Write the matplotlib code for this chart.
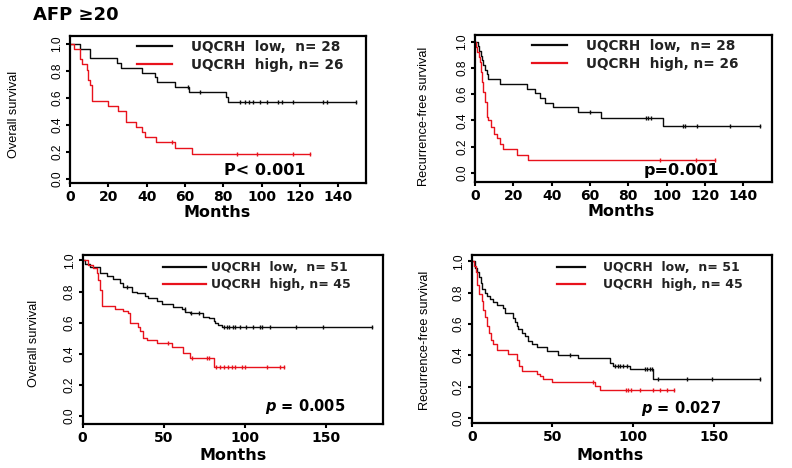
import numpy as np
import matplotlib
matplotlib.use('Agg')
import matplotlib.pyplot as plt

# ---- data ----
# top-left: overall survival, AFP >= 20
os1_low_t = [0, 5.2, 10.4, 24.3, 26.4, 37.4, 44.3, 45.6, 54.8, 62.1, 81.2, 82.3]
os1_low_s = [1.0, 0.964, 0.893, 0.857, 0.821, 0.786, 0.75, 0.714, 0.679, 0.643, 0.607, 0.57]
os1_low_c = [61.4, 67.8, 88.7, 91.3, 93.6, 95.7, 99.1, 102.6, 108.7, 110.4, 116.5, 132.2, 133.9, 149.2]
os1_high_t = [0, 2, 5.2, 6.4, 8.7, 9.6, 10.4, 11.3, 20, 25, 29.3, 34.3, 37.8, 39, 44.8, 55, 63.7]
os1_high_s = [1.0, 0.962, 0.885, 0.846, 0.808, 0.731, 0.692, 0.577, 0.538, 0.5, 0.423, 0.385, 0.346,
              0.308, 0.269, 0.227, 0.185]
os1_high_c = [53, 87, 97.4, 116.2, 125.2]

# top-right: recurrence-free survival, AFP >= 20
rfs1_low_t = [0, 1.5, 2.2, 3, 3.5, 4.4, 5.2, 6.1, 6.9, 13, 27, 31.3, 33.9, 36.5, 40.7, 54, 66, 98.2]
rfs1_low_s = [1.0, 0.964, 0.929, 0.893, 0.857, 0.821, 0.786, 0.75, 0.714, 0.679, 0.643, 0.607, 0.571,
              0.536, 0.5, 0.464, 0.42, 0.36]
rfs1_low_c = [60, 89, 90.4, 91.8, 108.3, 109.5, 115.6, 133, 148.7]
rfs1_high_t = [0, 0.8, 1.3, 2, 2.5, 3.1, 3.6, 4.2, 5.2, 6.1, 6.9, 8.2, 9.9, 11.3, 13, 14.8, 21.7, 27.8]
rfs1_high_s = [1.0, 0.962, 0.923, 0.885, 0.846, 0.769, 0.692, 0.615, 0.538, 0.43, 0.40, 0.35, 0.30,
               0.27, 0.22, 0.18, 0.14, 0.10]
rfs1_high_c = [96.5, 115.3, 125.2]

# bottom-left: overall survival
os2_low_t = [0, 1.5, 4.5, 10.7, 14.8, 18.9, 23, 25.1, 30.2, 33.3, 38.5, 40.5, 45.7, 48.8, 56, 61.1,
             63.2, 66.3, 74.5, 77.6, 80.7, 81.7, 83.7, 85.8]
os2_low_s = [1.0, 0.98, 0.956, 0.92, 0.90, 0.88, 0.853, 0.83, 0.80, 0.79, 0.77, 0.757, 0.74, 0.72,
             0.70, 0.686, 0.67, 0.66, 0.64, 0.628, 0.613, 0.596, 0.585, 0.57]
os2_low_c = [27.2, 62.8, 66.9, 72, 87.2, 88.9, 90.5, 92.4, 94, 97.1, 100.8, 105.3, 109.1, 110.5,
             115.6, 131.7, 148.1, 178.4]
os2_high_t = [0, 3.5, 6.6, 8.6, 9.7, 10.7, 11.7, 20, 25.1, 28.2, 29.2, 34.4, 35.4, 37.4, 39.5, 45.7,
              54.9, 62.1, 66.3, 80.7]
os2_high_s = [1.0, 0.97, 0.95, 0.917, 0.875, 0.81, 0.707, 0.686, 0.675, 0.665, 0.596, 0.57, 0.547,
              0.50, 0.489, 0.467, 0.446, 0.407, 0.371, 0.313]
os2_high_c = [52.9, 67.3, 76.5, 78.2, 82.3, 84.8, 87.2, 89.9, 92, 94, 98.1, 100.2, 113.6, 121.8, 123.9]

# bottom-right: recurrence-free survival
rfs2_low_t = [0, 2.1, 3.1, 4.7, 5.6, 6.2, 8.3, 9.7, 11.4, 13.4, 15.5, 19.6, 20.6, 25.8, 26.8, 27.9,
              28.9, 31, 33, 35.1, 37.2, 40.2, 46.4, 53.7, 66, 85.7, 87.7, 98, 112.5]
rfs2_low_s = [1.0, 0.96, 0.93, 0.90, 0.86, 0.82, 0.80, 0.78, 0.76, 0.74, 0.72, 0.70, 0.67, 0.64, 0.61,
              0.585, 0.565, 0.54, 0.52, 0.49, 0.47, 0.45, 0.43, 0.40, 0.38, 0.35, 0.33, 0.31, 0.25]
rfs2_low_c = [60.9, 88.8, 90.8, 91.8, 93.9, 96, 107.3, 108.4, 110.4, 111.5, 115.6, 133.1, 148.6, 178.5]
rfs2_high_t = [0, 1.4, 2.7, 3.5, 4.3, 6.2, 7.2, 8.3, 9.7, 10.9, 11.8, 13.4, 15.5, 22.7, 27.9, 29.5, 31,
               40.2, 42.3, 44.4, 49.5, 76.4, 79.5]
rfs2_high_s = [1.0, 0.97, 0.93, 0.85, 0.79, 0.745, 0.69, 0.645, 0.585, 0.54, 0.50, 0.47, 0.435, 0.41,
               0.37, 0.33, 0.30, 0.277, 0.266, 0.25, 0.228, 0.206, 0.177]
rfs2_high_c = [74.9, 95.6, 97, 98.5, 104.2, 112.5, 116.6, 120.7, 125.3]

labels_top = ['UQCRH  low,  n= 28', 'UQCRH  high, n= 26']
labels_bot = ['UQCRH  low,  n= 51', 'UQCRH  high, n= 45']
xticks_top = [0, 20, 40, 60, 80, 100, 120, 140]
xticks_bot = [0, 50, 100, 150]
yticks = [0.0, 0.2, 0.4, 0.6, 0.8, 1.0]

BLACK = '#0a0a0a'
RED = '#e8121c'
ARIAL = 'Liberation Sans'


def km(ax, t, s, c, color, label):
    t = list(t)
    s = list(s)
    if max(c) > t[-1]:
        t.append(max(c))
        s.append(s[-1])
    line, = ax.step(t, s, where='post', color=color, lw=1.0, label=label)
    idx = np.searchsorted(t, c, side='right') - 1
    ax.plot(c, np.array(s)[idx], '|', color=color, ms=3.5, mew=1.0)
    return line


def panel(rect, low, high, labels, xticks, xlim, ylim, ylabel, ylab_xy, xlab_xy,
          leg_xy, leg_fs, hlen, hpad, ptext, pxy, pfs):
    ax = fig.add_axes(rect)
    h1 = km(ax, *low, BLACK, labels[0])
    h2 = km(ax, *high, RED, labels[1])
    ax.set_xlim(*xlim)
    ax.set_ylim(*ylim)
    ax.set_xticks(xticks)
    ax.set_yticks(yticks)
    ax.set_yticklabels(['%.1f' % v for v in yticks], rotation=90, va='center',
                       family=ARIAL, fontsize=8.6)
    for lab in ax.get_xticklabels():
        lab.set_fontweight('bold')
        lab.set_fontsize(10)
    ax.tick_params(direction='out', length=3, width=1.5, pad=2)
    for sp in ax.spines.values():
        sp.set_linewidth(1.6)
    ax.set_ylabel(ylabel, family=ARIAL, fontsize=9.2)
    ax.yaxis.set_label_coords(*ylab_xy)
    ax.set_xlabel('Months', fontweight='bold', fontsize=11.5)
    ax.xaxis.set_label_coords(*xlab_xy)
    ax.xaxis.label.set_va('center')
    leg = ax.legend(handles=[h1, h2], loc='upper left', bbox_to_anchor=leg_xy,
                    frameon=False, borderpad=0, borderaxespad=0, fontsize=leg_fs,
                    handlelength=hlen, handletextpad=hpad, labelspacing=0.3)
    for txt in leg.get_texts():
        txt.set_fontweight('bold')
        txt.set_color('#222222')
    for ln in leg.get_lines():
        ln.set_linewidth(1.6)
    ax.text(pxy[0], pxy[1], ptext, transform=ax.transAxes, ha='center', va='center',
            fontsize=pfs, fontweight='bold')
    return ax


fig = plt.figure(figsize=(7.92, 4.68), dpi=100)

panel([0.0884, 0.6083, 0.3737, 0.3147],
      (os1_low_t, os1_low_s, os1_low_c), (os1_high_t, os1_high_s, os1_high_c),
      labels_top, xticks_top, (0, 154.5), (-0.035, 1.057), 'Overall survival',
      (-0.17, 0.468), (0.496, -0.20), (0.226, 0.975), 9.8, 2.6, 1.4,
      'P< 0.001', (0.659, 0.089), 11.5)

panel([0.5997, 0.6118, 0.3746, 0.3135],
      (rfs1_low_t, rfs1_low_s, rfs1_low_c), (rfs1_high_t, rfs1_high_s, rfs1_high_c),
      labels_top, xticks_top, (0, 154.8), (-0.065, 1.05), 'Recurrence-free survival',
      (-0.152, 0.448), (0.494, -0.205), (0.191, 0.975), 9.8, 2.6, 1.4,
      'p=0.001', (0.697, 0.075), 11.5)

panel([0.1044, 0.094, 0.3788, 0.3611],
      (os2_low_t, os2_low_s, os2_low_c), (os2_high_t, os2_high_s, os2_high_c),
      labels_bot, xticks_bot, (0, 185), (-0.05, 1.035), 'Overall survival',
      (-0.142, 0.479), (0.50, -0.185), (0.268, 0.962), 9, 3.4, 0.45,
      r'$\mathbfit{p}$ = 0.005', (0.74, 0.102), 10.5)

panel([0.5956, 0.0955, 0.3788, 0.3596],
      (rfs2_low_t, rfs2_low_s, rfs2_low_c), (rfs2_high_t, rfs2_high_s, rfs2_high_c),
      labels_bot, xticks_bot, (0, 185.8), (-0.035, 1.04), 'Recurrence-free survival',
      (-0.136, 0.495), (0.461, -0.19), (0.283, 0.962), 9, 2.3, 1.4,
      r'$\mathbfit{p}$ = 0.027', (0.699, 0.089), 10.5)

fig.text(0.042, 0.968, 'AFP \u226520', fontsize=13, fontweight='bold', ha='left', va='center')

fig.savefig('out.png', dpi=100)
